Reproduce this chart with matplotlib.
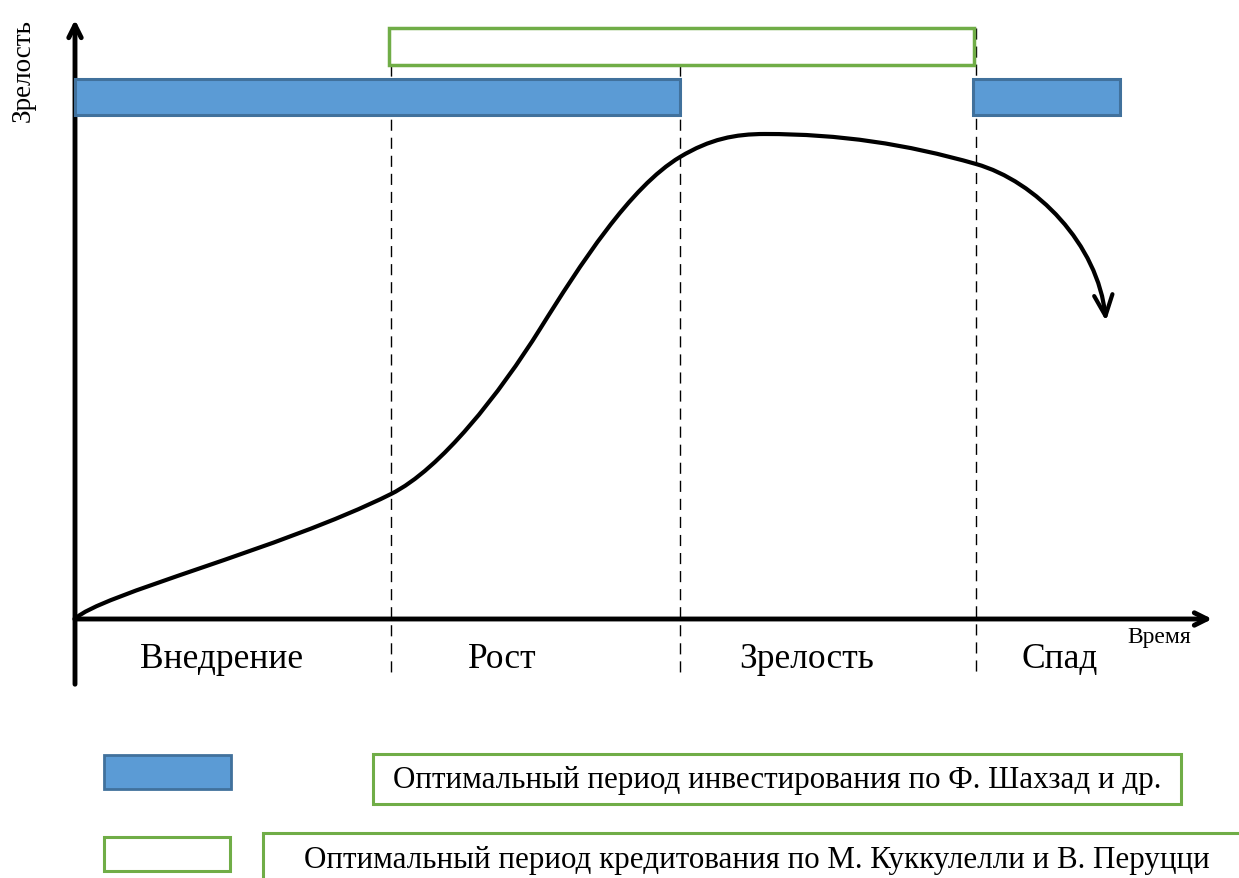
import matplotlib
matplotlib.use("Agg")
import matplotlib.pyplot as plt
from matplotlib.patches import Rectangle, FancyArrowPatch
from matplotlib.path import Path

plt.rcParams['font.family'] = ['Liberation Serif', 'DejaVu Serif']

# --- данные (в пикселях исходного рисунка) ---
stages = ['Внедрение', 'Рост', 'Зрелость', 'Спад']
stage_label_x = [222, 502, 807, 1060]
stage_bounds = [391, 680, 976]

# кривая жизненного цикла: опорные точки и управляющие точки кривых Безье
anchors = [(75, 620), (391, 495), (540, 330), (680, 158), (765, 135), (976, 165), (1106, 322)]
handles = [((98, 596), (281, 550)),
           ((441, 470), (500, 394)),
           ((580, 266), (630, 188)),
           ((710, 140), (735, 135)),
           ((840, 135), (906, 145)),
           ((1036, 182), (1098, 245))]

# периоды: (начало, конец)
invest_periods = [(75, 680), (973, 1120)]
credit_period = (389, 974)

legend_texts = ['Оптимальный период инвестирования по Ф. Шахзад и др.',
                'Оптимальный период кредитования по М. Куккулелли и В. Перуцци']

blue = '#5B9BD5'
blue_edge = '#41719C'
green = '#70AD47'

fig = plt.figure(figsize=(12.39, 8.79), dpi=100)
ax = fig.add_axes([0, 0, 1, 1])
ax.set_xlim(0, 1239)
ax.set_ylim(879, 0)
ax.axis('off')

# оси со стрелками
ax.annotate('', xy=(75, 18), xytext=(75, 688),
            arrowprops=dict(arrowstyle='->,head_length=0.9,head_width=0.45', lw=3.5, color='black'))
ax.annotate('', xy=(1215, 620), xytext=(72, 620),
            arrowprops=dict(arrowstyle='->,head_length=0.9,head_width=0.45', lw=3.5, color='black'))

# границы стадий
for i, b in enumerate(stage_bounds):
    top = 29 if i == 2 else 66
    ax.plot([b, b], [top, 676], color='black', lw=1, ls=(0, (8, 5)))

# периоды инвестирования
for x0, x1 in invest_periods:
    ax.add_patch(Rectangle((x0, 80), x1 - x0, 36, facecolor=blue, edgecolor=blue_edge, lw=2.2, zorder=3))

# период кредитования
ax.add_patch(Rectangle((credit_period[0], 29), credit_period[1] - credit_period[0], 37,
                       facecolor='none', edgecolor=green, lw=2.5, zorder=3))

# кривая
verts = [anchors[0]]
codes = [Path.MOVETO]
for (c1, c2), p in zip(handles, anchors[1:]):
    verts += [c1, c2, p]
    codes += [Path.CURVE4] * 3
curve = FancyArrowPatch(path=Path(verts, codes),
                        arrowstyle='->,head_length=0.75,head_width=0.33', mutation_scale=20,
                        lw=3, color='black', zorder=4)
ax.add_patch(curve)

# подписи
for name, x in zip(stages, stage_label_x):
    ax.text(x, 668, name, ha='center', va='baseline', fontsize=25.5)
ax.text(1159, 643, 'Время', ha='center', va='baseline', fontsize=17)
ax.text(23, 70, 'Зрелость', ha='center', va='center', rotation=90, fontsize=19.5)

# легенда
ax.add_patch(Rectangle((104, 756), 127, 34, facecolor=blue, edgecolor=blue_edge, lw=2))
ax.add_patch(Rectangle((373, 755), 808, 50, facecolor='white', edgecolor=green, lw=2.2))
ax.text(777, 788, legend_texts[0], ha='center', va='baseline', fontsize=22.3)

ax.add_patch(Rectangle((104, 838), 126, 34, facecolor='white', edgecolor=green, lw=2.2))
ax.add_patch(Rectangle((263, 834), 1000, 60, facecolor='white', edgecolor=green, lw=2.2))
ax.text(757, 868, legend_texts[1], ha='center', va='baseline', fontsize=22.3)

fig.savefig('out.png', dpi=100)
